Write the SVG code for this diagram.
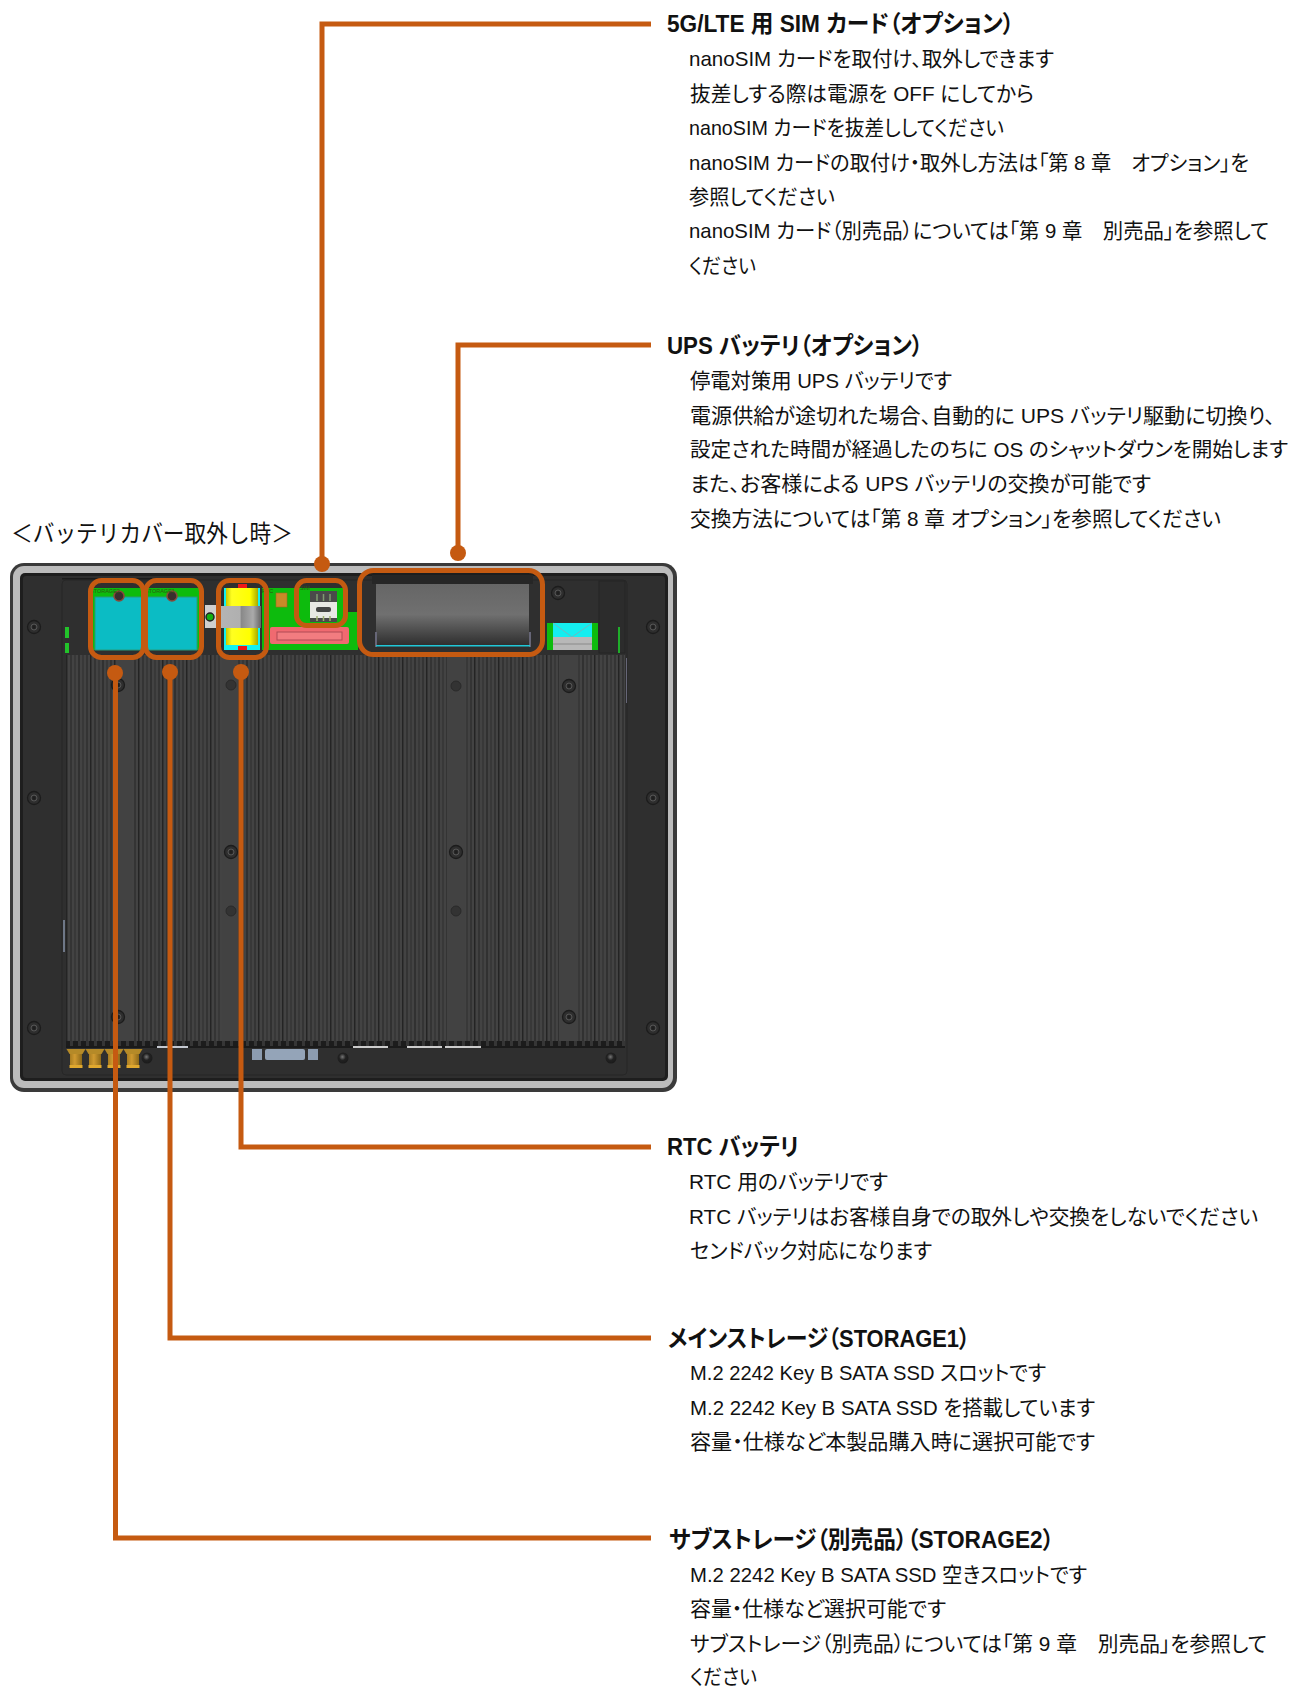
<svg xmlns="http://www.w3.org/2000/svg" width="1293" height="1686" viewBox="0 0 1293 1686">
<style>
text{font-family:"Liberation Sans","Noto Sans CJK JP",sans-serif;fill:#111}
.h{font-size:24px;font-weight:700;font-feature-settings:"palt"}
.b{font-size:21px;font-feature-settings:"palt"}
.s{font-size:20px}
.t{font-size:24px}
.tiny{font-size:5.5px;fill:#2c5a10}
.conn{fill:none;stroke:#c55a11;stroke-width:5}
.dot{fill:#c55a11}
.box{fill:none;stroke:#c55a11;stroke-width:5}
.hole{fill:#333;stroke:#2a2a2a;stroke-width:1}
</style>
<defs>
<pattern id="fins" patternUnits="userSpaceOnUse" x="66" y="0" width="24" height="10">
<rect width="24" height="10" fill="#434343"/>
<rect x="0" width="1.500" height="10" fill="#242424"/>
<rect x="4" width="2" height="10" fill="#343434"/>
<rect x="8" width="2" height="10" fill="#383838"/>
<rect x="12" width="2" height="10" fill="#313131"/>
<rect x="16" width="2" height="10" fill="#383838"/>
<rect x="20" width="2" height="10" fill="#343434"/>
</pattern>
<pattern id="teeth" patternUnits="userSpaceOnUse" x="66" y="0" width="8" height="10">
<rect width="8" height="10" fill="#1c1c1c"/>
<rect x="4" width="3" height="10" fill="#363636"/>
</pattern>
<linearGradient id="ups" x1="0" y1="0" x2="0" y2="1">
<stop offset="0" stop-color="#666"/><stop offset=".5" stop-color="#707070"/><stop offset="1" stop-color="#2f2f2f"/>
</linearGradient>
<linearGradient id="yel" x1="0" y1="0" x2="1" y2="0">
<stop offset="0" stop-color="#c8c800"/><stop offset=".18" stop-color="#ffff20"/><stop offset=".75" stop-color="#ffff00"/><stop offset="1" stop-color="#a8a800"/>
</linearGradient>
<linearGradient id="bar" x1="0" y1="0" x2="1" y2="0">
<stop offset="0" stop-color="#b4b4b4"/><stop offset=".48" stop-color="#b0b0b0"/><stop offset=".5" stop-color="#888"/><stop offset=".8" stop-color="#aaa"/><stop offset="1" stop-color="#666"/>
</linearGradient>
<linearGradient id="brass" x1="0" y1="0" x2="1" y2="0">
<stop offset="0" stop-color="#a87c20"/><stop offset=".4" stop-color="#d09a30"/><stop offset="1" stop-color="#8c6818"/>
</linearGradient>
<radialGradient id="knob" cx=".45" cy=".4" r=".6"><stop offset="0" stop-color="#777"/><stop offset=".5" stop-color="#222"/><stop offset="1" stop-color="#1a1a1a"/></radialGradient>
<g id="screw"><circle r="6.500" fill="#2e2e2e" stroke="#1c1c1c" stroke-width="1.300"/><circle r="3" fill="none" stroke="#555" stroke-width="1"/><path d="M-2 0H2M0-2V2" stroke="#1c1c1c" stroke-width="1.200"/></g>
<g id="gold"><path d="M-9.500 0H9.500L6.500 5H-6.500Z" fill="#b58a28"/><rect x="-6" y="5" width="12" height="11" fill="url(#brass)"/><rect x="-6.500" y="16" width="13" height="3" fill="#e0a82e"/></g>
</defs>

<g id="panel">
<rect x="10" y="563" width="667" height="529" rx="14" fill="#3a3a3a"/>
<rect x="13" y="566" width="660" height="522" rx="11" fill="#bcbcbc"/>
<rect x="20" y="573" width="648" height="508" rx="5" fill="#1e1e1e"/>
<rect x="23" y="576" width="642" height="502" rx="3" fill="#2f2f2f"/>
<rect x="62" y="580" width="565" height="495" rx="4" fill="#2f2f2f" stroke="#272727"/>
<rect x="62" y="578" width="90" height="1.500" fill="#1c1c1c"/>
<rect x="599" y="581" width="26" height="72" fill="#2c2c2c" stroke="#242424"/>
<rect x="66" y="655" width="559" height="392" fill="url(#fins)"/>
<rect x="66" y="1041" width="559" height="6" fill="url(#teeth)"/>
<rect x="66" y="1046" width="559" height="2" fill="#1a1a1a"/>
<rect x="118" y="655" width="14" height="386" fill="#424242"/>
<rect x="222" y="655" width="16" height="386" fill="#424242"/>
<rect x="447" y="655" width="18" height="386" fill="#424242"/>
<rect x="559" y="655" width="19" height="386" fill="#424242"/>
<rect x="157" y="1046" width="31" height="2" fill="#c4c8d0"/><rect x="353" y="1046" width="35" height="2" fill="#ccc"/><rect x="407" y="1046" width="35" height="2" fill="#ccc"/><rect x="445" y="1046" width="36" height="2" fill="#ccc"/>
<rect x="63" y="920" width="2" height="32" fill="#6f7888"/>
<rect x="626" y="658" width="1" height="45" fill="#667"/>
<rect x="65" y="627" width="4" height="11" fill="#22c32a"/><rect x="65" y="643" width="4" height="10" fill="#22c32a"/>
<rect x="618" y="627" width="2" height="26" fill="#1fae2a"/>
<use href="#screw" x="34" y="627"/><use href="#screw" x="34" y="798"/><use href="#screw" x="34" y="1028"/>
<use href="#screw" x="653" y="627"/><use href="#screw" x="653" y="798"/><use href="#screw" x="653" y="1028"/>
<use href="#screw" x="558" y="593"/><use href="#screw" x="118" y="685"/><use href="#screw" x="569" y="686"/>
<use href="#screw" x="231" y="852"/><use href="#screw" x="456" y="852"/><use href="#screw" x="118" y="1017"/><use href="#screw" x="569" y="1017"/>
<circle class="hole" cx="231" cy="685" r="5"/><circle class="hole" cx="456" cy="686" r="5"/><circle class="hole" cx="231" cy="911" r="5"/><circle class="hole" cx="456" cy="911" r="5"/>
<use href="#gold" x="76" y="1049"/><use href="#gold" x="95" y="1049"/><use href="#gold" x="114" y="1049"/><use href="#gold" x="133" y="1049"/>
<circle cx="147" cy="1058" r="5.500" fill="url(#knob)"/><circle cx="343" cy="1058" r="5.500" fill="url(#knob)"/><circle cx="611" cy="1058" r="5.500" fill="url(#knob)"/>
<rect x="252" y="1049" width="10" height="11" fill="#8c9cb0"/><rect x="265" y="1049" width="40" height="11" rx="2" fill="#94a4b8"/><rect x="308" y="1049" width="10" height="11" fill="#8c9cb0"/>

<g id="storage-board">
<rect x="92" y="588" width="107" height="62" fill="#0dbb0d"/>
<rect x="95" y="597" width="47" height="53" fill="#0bbcc4" stroke="#2a9a7a"/>
<rect x="147" y="597" width="50" height="53" fill="#0bbcc4" stroke="#2a9a7a"/>
<circle cx="119" cy="596" r="5" fill="#3a2e2e" stroke="#8a4a3a" stroke-width="1.500"/>
<circle cx="172" cy="596" r="5" fill="#3a2e2e" stroke="#8a4a3a" stroke-width="1.500"/>
<text class="tiny" x="90" y="593">STORAGE2</text>
<text class="tiny" x="145" y="593">STORAGE1</text>
</g>
<g id="rtc-battery">
<rect x="205" y="605" width="16" height="23" fill="#cfcfcf"/>
<circle cx="210" cy="617" r="4" fill="#12b012" stroke="#222" stroke-width="1.500"/>
<rect x="224" y="588" width="36" height="62" fill="#12f0f0"/>
<rect x="226" y="588" width="32" height="57" fill="url(#yel)"/>
<rect x="221" y="606" width="40" height="22" fill="url(#bar)"/>
<rect x="238" y="584" width="9" height="4" fill="#f01818"/>
<rect x="238" y="646" width="9" height="4" fill="#f01818"/>
</g>
<g id="sim-board">
<path d="M262 588H347V612H358V650H262Z" fill="#0dbb0d"/>
<rect x="276" y="593" width="11" height="14" fill="#c88a28" stroke="#a06a20" stroke-width=".6"/>
<text class="tiny" x="262" y="593">RTC</text>
<text class="tiny" x="300" y="590">SIM</text>
<rect x="310" y="591" width="27" height="31" fill="#4a4a4a"/>
<rect x="310" y="602" width="27" height="16" fill="#e8e8e4"/>
<rect x="316" y="607" width="15" height="5" rx="2" fill="#444"/>
<path d="M317 594V601M323.500 594V601M330 594V601" stroke="#7f9a70" stroke-width="1.500"/>
<path d="M317 616V621M323.500 616V621M330 616V621" stroke="#a0b070" stroke-width="1.500"/>
<rect x="270" y="627" width="79" height="17" rx="2" fill="#f06a70"/>
<rect x="277" y="632" width="65" height="8" fill="#f27c80" stroke="#b04a54"/>
</g>
<g id="ups-battery">
<rect x="372" y="575" width="161" height="9" fill="#262626"/>
<rect x="376" y="584" width="153" height="61" fill="url(#ups)"/>
<rect x="375" y="632" width="2" height="15" fill="#667"/><rect x="529" y="632" width="2" height="15" fill="#667"/>
<rect x="376" y="645" width="154" height="1.500" fill="#20c8d8"/>
</g>
<g id="right-board">
<rect x="547" y="623" width="51" height="27" fill="#0dbb0d"/>
<rect x="553" y="623" width="39" height="27" fill="#14eef0"/>
<path d="M553 623L572 637L592 623" fill="none" stroke="#70b8c0"/>
<rect x="553" y="637" width="39" height="13" fill="#b8b8b8"/>
<path d="M553 644H592" stroke="#8a8a8a"/>
</g>
<rect x="90.500" y="580.500" width="53" height="77" rx="11" class="box"/>
<rect x="145.500" y="580.500" width="56" height="77" rx="11" class="box"/>
<rect x="218.500" y="580.500" width="48" height="77" rx="11" class="box"/>
<rect x="296.500" y="580.500" width="49" height="45" rx="10" class="box"/>
<rect x="359.500" y="570.500" width="183" height="84" rx="14" class="box"/>
</g>

<g id="connectors">
<path class="conn" d="M651 24H322V564"/>
<circle class="dot" cx="322" cy="564" r="8"/>
<path class="conn" d="M651 345H458V553"/>
<circle class="dot" cx="458" cy="553" r="8"/>
<path class="conn" d="M651 1147H241V672"/>
<circle class="dot" cx="241" cy="672" r="8"/>
<path class="conn" d="M651 1338H170V672"/>
<circle class="dot" cx="170" cy="672" r="8"/>
<path class="conn" d="M651 1538H115.500V673"/>
<circle class="dot" cx="115" cy="673" r="8"/>
</g>

<g id="title"><text class="t" x="11" y="542" textLength="282" lengthAdjust="spacingAndGlyphs">＜バッテリカバー取外し時＞</text></g>

<g id="label-sim">
<text class="h" x="667" y="32" textLength="347" lengthAdjust="spacingAndGlyphs">5G/LTE 用 SIM カード（オプション）</text>
<text class="b" x="689" y="66" textLength="365" lengthAdjust="spacingAndGlyphs">nanoSIM カードを取付け、取外しできます</text>
<text class="b" x="690" y="101" textLength="344" lengthAdjust="spacingAndGlyphs">抜差しする際は電源を OFF にしてから</text>
<text class="b" x="689" y="135" textLength="315" lengthAdjust="spacingAndGlyphs">nanoSIM カードを抜差ししてください</text>
<text class="b" x="689" y="170" textLength="560" lengthAdjust="spacingAndGlyphs">nanoSIM カードの取付け・取外し方法は「第 8 章　オプション」を</text>
<text class="b" x="689" y="204" textLength="146" lengthAdjust="spacingAndGlyphs">参照してください</text>
<text class="b" x="689" y="238" textLength="580" lengthAdjust="spacingAndGlyphs">nanoSIM カード（別売品）については「第 9 章　別売品」を参照して</text>
<text class="b" x="689" y="273" textLength="67" lengthAdjust="spacingAndGlyphs">ください</text>
</g>
<g id="label-ups">
<text class="h" x="667" y="354" textLength="256" lengthAdjust="spacingAndGlyphs">UPS バッテリ（オプション）</text>
<text class="b" x="690" y="388" textLength="262" lengthAdjust="spacingAndGlyphs">停電対策用 UPS バッテリです</text>
<text class="b" x="690" y="423" textLength="585" lengthAdjust="spacingAndGlyphs">電源供給が途切れた場合、自動的に UPS バッテリ駆動に切換り、</text>
<text class="b s" x="690" y="457" textLength="598" lengthAdjust="spacingAndGlyphs">設定された時間が経過したのちに OS のシャットダウンを開始します</text>
<text class="b" x="690" y="491" textLength="461" lengthAdjust="spacingAndGlyphs">また、お客様による UPS バッテリの交換が可能です</text>
<text class="b" x="690" y="526" textLength="531" lengthAdjust="spacingAndGlyphs">交換方法については「第 8 章 オプション」を参照してください</text>
</g>
<g id="label-rtc">
<text class="h" x="667" y="1155" textLength="132" lengthAdjust="spacingAndGlyphs">RTC バッテリ</text>
<text class="b" x="689" y="1189" textLength="199" lengthAdjust="spacingAndGlyphs">RTC 用のバッテリです</text>
<text class="b" x="689" y="1224" textLength="569" lengthAdjust="spacingAndGlyphs">RTC バッテリはお客様自身での取外しや交換をしないでください</text>
<text class="b" x="690" y="1258" textLength="242" lengthAdjust="spacingAndGlyphs">センドバック対応になります</text>
</g>
<g id="label-storage1">
<text class="h" x="668" y="1347" textLength="302" lengthAdjust="spacingAndGlyphs">メインストレージ（STORAGE1）</text>
<text class="b" x="690" y="1380" textLength="356" lengthAdjust="spacingAndGlyphs">M.2 2242 Key B SATA SSD スロットです</text>
<text class="b" x="690" y="1415" textLength="405" lengthAdjust="spacingAndGlyphs">M.2 2242 Key B SATA SSD を搭載しています</text>
<text class="b" x="690" y="1449" textLength="405" lengthAdjust="spacingAndGlyphs">容量・仕様など本製品購入時に選択可能です</text>
</g>
<g id="label-storage2">
<text class="h" x="669" y="1548" textLength="385" lengthAdjust="spacingAndGlyphs">サブストレージ（別売品）（STORAGE2）</text>
<text class="b" x="690" y="1582" textLength="397" lengthAdjust="spacingAndGlyphs">M.2 2242 Key B SATA SSD 空きスロットです</text>
<text class="b" x="690" y="1616" textLength="256" lengthAdjust="spacingAndGlyphs">容量・仕様など選択可能です</text>
<text class="b" x="690" y="1651" textLength="577" lengthAdjust="spacingAndGlyphs">サブストレージ（別売品）については「第 9 章　別売品」を参照して</text>
<text class="b" x="690" y="1684" textLength="67" lengthAdjust="spacingAndGlyphs">ください</text>
</g>
</svg>
